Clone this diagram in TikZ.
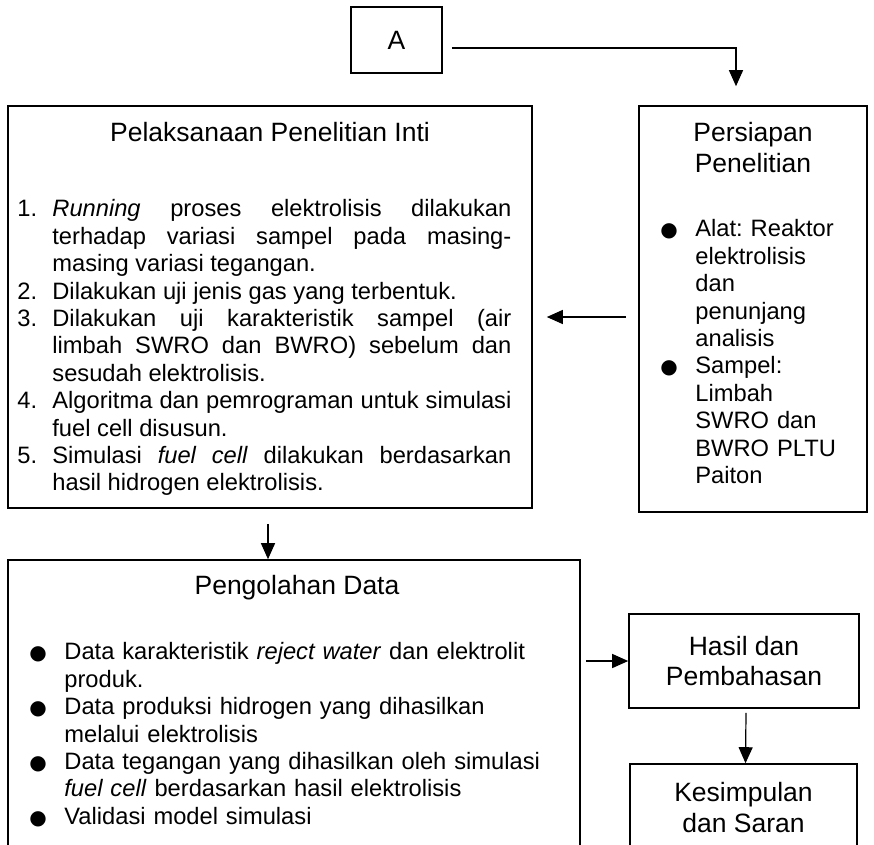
\documentclass[tikz,border=0pt]{standalone}
\usepackage{fontspec}
\setmainfont{Liberation Sans}
\newfontfamily\dotfont{DejaVu Sans}
\usetikzlibrary{positioning}
\usetikzlibrary{calc,arrows.meta}

\newcommand{\titlesize}{\fontsize{26.5}{30.5}\selectfont}
\newcommand{\bodysize}{\fontsize{23.7}{27.4}\selectfont}
\newcommand{\numitem}[1]{\par\noindent\hangindent=35pt\hangafter=1\makebox[35pt][l]{#1}\ignorespaces}
\newcommand{\dotitem}[1]{\par\noindent\hangindent=#1\hangafter=1\makebox[#1][l]{{\dotfont\fontsize{20}{20}\selectfont ●}}\ignorespaces}
\frenchspacing

\begin{document}
\begin{tikzpicture}[x=1pt, y=-1pt]
  \tikzset{box/.style={draw, line width=1.6pt, inner sep=0pt},
    title/.style={font=\titlesize, inner sep=0pt},
    body/.style={font=\bodysize, inner sep=0pt, align=justify},
    >={Triangle[width=14pt,length=16pt]}}
  \hyphenpenalty=10000 \tolerance=10000
  \useasboundingbox (0,0) rectangle (874,844);

  \node[box, minimum width=91pt, minimum height=66pt, font=\titlesize] (a) at (396.5,40) {A};
  \node[box, minimum width=524pt, minimum height=402pt] (pel) at (270,307) {};
  \node[box, minimum width=228pt, minimum height=406pt] (per) at (753,309) {};
  \node[box, minimum width=572pt, minimum height=310pt] (peng) at (294,715) {};
  \node[box, minimum width=230pt, minimum height=94pt, align=center, font=\titlesize] (hasil) at (744,661) {Hasil dan\\Pembahasan};
  \node[box, minimum width=227pt, minimum height=87pt, align=center, font=\titlesize] (kes) at (743.5,807.5) {Kesimpulan\\dan Saran};

  \node[title, below=17pt of pel.north] (peltitle) {Pelaksanaan Penelitian Inti};
  \node[title, align=center, below=17pt of per.north] (pertitle) {Persiapan\\Penelitian};
  \node[title, xshift=3pt, below=16pt of peng.north] (pengtitle) {Pengolahan Data};

  \node[body, text width=494pt, below right=84pt and 10pt of pel.north west] (pelbody) {%
    \numitem{1.}\textit{Running} proses elektrolisis dilakukan \linebreak terhadap variasi sampel pada masing-\linebreak masing variasi tegangan.
    \numitem{2.}Dilakukan uji jenis gas yang terbentuk.
    \numitem{3.}Dilakukan uji karakteristik sampel (air \linebreak limbah SWRO dan BWRO) sebelum dan \linebreak sesudah elektrolisis.
    \numitem{4.}Algoritma dan pemrograman untuk simulasi \linebreak fuel cell disusun.
    \numitem{5.}Simulasi \textit{fuel cell} dilakukan berdasarkan \linebreak hasil hidrogen elektrolisis.\par};
  \node[body, text width=200pt, align=left, below right=104pt and 22pt of per.north west] (perbody) {%
    \dotitem{35pt}Alat: Reaktor\newline elektrolisis\newline dan\newline penunjang\newline analisis
    \dotitem{35pt}Sampel:\newline Limbah\newline SWRO dan\newline BWRO PLTU\newline Paiton\par};
  \node[body, text width=530pt, align=left, below right=73pt and 22pt of peng.north west] (pengbody) {%
    \dotitem{35pt}Data karakteristik \textit{reject water} dan elektrolit\newline produk.
    \dotitem{35pt}Data produksi hidrogen yang dihasilkan\newline melalui elektrolisis
    \dotitem{35pt}Data tegangan yang dihasilkan oleh simulasi\newline \textit{fuel cell} berdasarkan hasil elektrolisis
    \dotitem{35pt}Validasi model simulasi\par};

  \coordinate (pelout) at ($(pel.south)+(-2,15)$);

  \draw[->, line width=1.2pt] ($(a.east)+(9,8)$) -| ($(per.north)+(-17,-19)$);
  \draw[->, line width=1.2pt] ($(per.west)+(-12,8)$) -- ($(pel.east)+(14,10)$);
  \draw[->, line width=1.2pt] (pelout) -- (pelout |- peng.north);
  \draw[->, line width=1.2pt] ($(hasil.west -| peng.east)+(5,0)$) -- (hasil.west);
  \draw[->, line width=1.2pt] ($(hasil.south)+(2,4)$) -- ($(kes.north)+(2,0)$);
\end{tikzpicture}
\end{document}
